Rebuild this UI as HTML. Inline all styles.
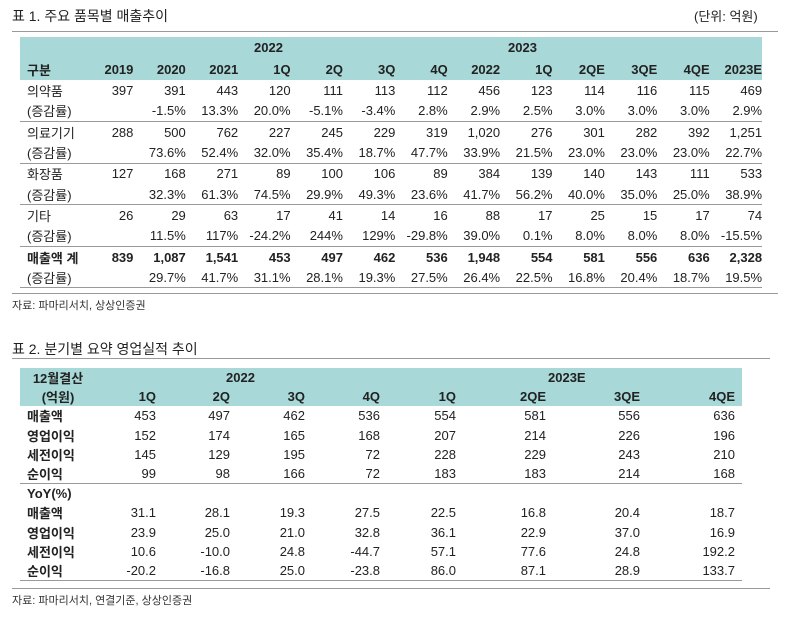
<!DOCTYPE html>
<html><head><meta charset="utf-8"><style>
body{margin:0;width:788px;height:617px;background:#fff;position:relative;overflow:hidden;font-family:"Liberation Sans","Noto Sans CJK KR","NanumGothic",sans-serif;color:#222}
.ab{position:absolute}
.t{font-size:14px;white-space:nowrap}
.hl{position:absolute;height:1px;background:#999}
table{position:absolute;border-collapse:collapse;table-layout:fixed;font-size:13px}
td{padding:0;text-align:right;white-space:nowrap;overflow:visible}
td.l{text-align:left;padding-left:7px}
.h td{background:#a8d8d8;font-weight:bold}
.b td{font-weight:bold}
.sep td{border-bottom:1px solid #999}
#t1 tr{height:20.8px}
#t1 tr.h{height:21.5px}
#t2 tr{height:19.4px}
#t2 tr.h{height:18.5px}
#t2 td.l{font-weight:bold}
.src{font-size:11px;color:#333}
.hb{position:absolute;font-size:13px;font-weight:bold;color:#222}
</style></head><body>
<div class="ab t" style="left:12px;top:6px">표 1. 주요 품목별 매출추이</div>
<div class="ab t" style="left:694px;top:6px;font-size:13px">(단위: 억원)</div>
<div class="hl" style="left:12px;top:31px;width:766px"></div>
<table id="t1" style="left:20px;top:37px;width:742px">
<colgroup><col style="width:61px"><col span="13" style="width:52.4px"></colgroup>
<tr class="h"><td class="l"></td><td></td><td></td><td></td><td></td><td></td><td></td><td></td><td></td><td></td><td></td><td></td><td></td><td></td></tr>
<tr class="h"><td class="l">구분</td><td>2019</td><td>2020</td><td>2021</td><td>1Q</td><td>2Q</td><td>3Q</td><td>4Q</td><td>2022</td><td>1Q</td><td>2QE</td><td>3QE</td><td>4QE</td><td>2023E</td></tr>
<tr><td class="l">의약품</td><td>397</td><td>391</td><td>443</td><td>120</td><td>111</td><td>113</td><td>112</td><td>456</td><td>123</td><td>114</td><td>116</td><td>115</td><td>469</td></tr>
<tr class="sep"><td class="l">(증감률)</td><td></td><td>-1.5%</td><td>13.3%</td><td>20.0%</td><td>-5.1%</td><td>-3.4%</td><td>2.8%</td><td>2.9%</td><td>2.5%</td><td>3.0%</td><td>3.0%</td><td>3.0%</td><td>2.9%</td></tr>
<tr><td class="l">의료기기</td><td>288</td><td>500</td><td>762</td><td>227</td><td>245</td><td>229</td><td>319</td><td>1,020</td><td>276</td><td>301</td><td>282</td><td>392</td><td>1,251</td></tr>
<tr class="sep"><td class="l">(증감률)</td><td></td><td>73.6%</td><td>52.4%</td><td>32.0%</td><td>35.4%</td><td>18.7%</td><td>47.7%</td><td>33.9%</td><td>21.5%</td><td>23.0%</td><td>23.0%</td><td>23.0%</td><td>22.7%</td></tr>
<tr><td class="l">화장품</td><td>127</td><td>168</td><td>271</td><td>89</td><td>100</td><td>106</td><td>89</td><td>384</td><td>139</td><td>140</td><td>143</td><td>111</td><td>533</td></tr>
<tr class="sep"><td class="l">(증감률)</td><td></td><td>32.3%</td><td>61.3%</td><td>74.5%</td><td>29.9%</td><td>49.3%</td><td>23.6%</td><td>41.7%</td><td>56.2%</td><td>40.0%</td><td>35.0%</td><td>25.0%</td><td>38.9%</td></tr>
<tr><td class="l">기타</td><td>26</td><td>29</td><td>63</td><td>17</td><td>41</td><td>14</td><td>16</td><td>88</td><td>17</td><td>25</td><td>15</td><td>17</td><td>74</td></tr>
<tr class="sep"><td class="l">(증감률)</td><td></td><td>11.5%</td><td>117%</td><td>-24.2%</td><td>244%</td><td>129%</td><td>-29.8%</td><td>39.0%</td><td>0.1%</td><td>8.0%</td><td>8.0%</td><td>8.0%</td><td>-15.5%</td></tr>
<tr class="b"><td class="l">매출액 계</td><td>839</td><td>1,087</td><td>1,541</td><td>453</td><td>497</td><td>462</td><td>536</td><td>1,948</td><td>554</td><td>581</td><td>556</td><td>636</td><td>2,328</td></tr>
<tr class="sep"><td class="l">(증감률)</td><td></td><td>29.7%</td><td>41.7%</td><td>31.1%</td><td>28.1%</td><td>19.3%</td><td>27.5%</td><td>26.4%</td><td>22.5%</td><td>16.8%</td><td>20.4%</td><td>18.7%</td><td>19.5%</td></tr>
</table>
<div class="hb" style="left:254px;top:40px">2022</div>
<div class="hb" style="left:508px;top:40px">2023</div>
<div class="hl" style="left:12px;top:293px;width:766px"></div>
<div class="ab src" style="left:12px;top:297px">자료: 파마리서치, 상상인증권</div>

<div class="ab t" style="left:12px;top:339px">표 2. 분기별 요약 영업실적 추이</div>
<div class="hl" style="left:12px;top:358px;width:758px"></div>
<table id="t2" style="left:20px;top:368px;width:722px">
<colgroup><col style="width:76px"><col style="width:60px"><col style="width:74px"><col style="width:75px"><col style="width:75px"><col style="width:76px"><col style="width:90px"><col style="width:94px"><col style="width:95px"><col style="width:7px"></colgroup>
<tr class="h"><td style="text-align:center">12월결산</td><td></td><td></td><td></td><td></td><td></td><td></td><td></td><td></td><td></td></tr>
<tr class="h"><td style="text-align:center">(억원)</td><td>1Q</td><td>2Q</td><td>3Q</td><td>4Q</td><td>1Q</td><td>2QE</td><td>3QE</td><td>4QE</td><td></td></tr>
<tr><td class="l">매출액</td><td>453</td><td>497</td><td>462</td><td>536</td><td>554</td><td>581</td><td>556</td><td>636</td><td></td></tr>
<tr><td class="l">영업이익</td><td>152</td><td>174</td><td>165</td><td>168</td><td>207</td><td>214</td><td>226</td><td>196</td><td></td></tr>
<tr><td class="l">세전이익</td><td>145</td><td>129</td><td>195</td><td>72</td><td>228</td><td>229</td><td>243</td><td>210</td><td></td></tr>
<tr class="sep"><td class="l">순이익</td><td>99</td><td>98</td><td>166</td><td>72</td><td>183</td><td>183</td><td>214</td><td>168</td><td></td></tr>
<tr><td class="l">YoY(%)</td><td></td><td></td><td></td><td></td><td></td><td></td><td></td><td></td><td></td></tr>
<tr><td class="l">매출액</td><td>31.1</td><td>28.1</td><td>19.3</td><td>27.5</td><td>22.5</td><td>16.8</td><td>20.4</td><td>18.7</td><td></td></tr>
<tr><td class="l">영업이익</td><td>23.9</td><td>25.0</td><td>21.0</td><td>32.8</td><td>36.1</td><td>22.9</td><td>37.0</td><td>16.9</td><td></td></tr>
<tr><td class="l">세전이익</td><td>10.6</td><td>-10.0</td><td>24.8</td><td>-44.7</td><td>57.1</td><td>77.6</td><td>24.8</td><td>192.2</td><td></td></tr>
<tr class="sep"><td class="l">순이익</td><td>-20.2</td><td>-16.8</td><td>25.0</td><td>-23.8</td><td>86.0</td><td>87.1</td><td>28.9</td><td>133.7</td><td></td></tr>
</table>
<div class="hb" style="left:226px;top:370px">2022</div>
<div class="hb" style="left:548px;top:370px">2023E</div>
<div class="hl" style="left:12px;top:588px;width:758px"></div>
<div class="ab src" style="left:12px;top:592px">자료: 파마리서치, 연결기준, 상상인증권</div>
</body></html>
